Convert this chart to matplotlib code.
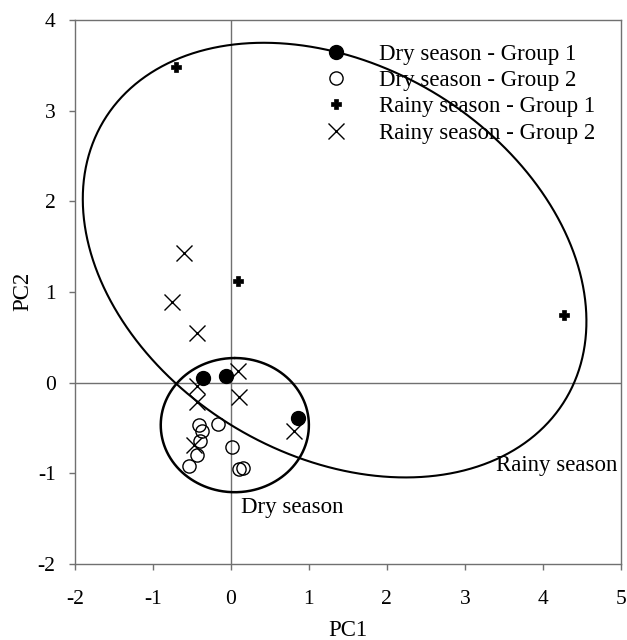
import numpy as np
import matplotlib
matplotlib.use("Agg")
import matplotlib.pyplot as plt

plt.rcParams['font.family'] = ['Liberation Serif', 'DejaVu Serif']
plt.rcParams['axes.unicode_minus'] = False

# Data
dry_g1_x = [-0.36, -0.06, 0.86]
dry_g1_y = [0.05, 0.07, -0.39]
dry_g2_x = [-0.41, -0.37, -0.17, -0.40, -0.43, -0.54, 0.02, 0.10, 0.16]
dry_g2_y = [-0.47, -0.53, -0.46, -0.64, -0.80, -0.92, -0.71, -0.95, -0.94]
rainy_g1_x = [-0.70, 0.09, 4.27]
rainy_g1_y = [3.48, 1.12, 0.74]
rainy_g2_x = [-0.60, -0.75, -0.44, 0.09, 0.10, -0.43, -0.43, 0.81, -0.47]
rainy_g2_y = [1.43, 0.89, 0.55, 0.13, -0.16, -0.04, -0.21, -0.53, -0.69]

labels = ["Dry season - Group 1", "Dry season - Group 2",
          "Rainy season - Group 1", "Rainy season - Group 2"]

# Ellipses: x = cx + a*cos t + b*sin t, y = cy + c*cos t + d*sin t
rainy_ell = dict(cx=1.33, cy=1.35, a=3.23, b=0.0, c=-0.675, d=2.30)
dry_ell = dict(cx=0.05, cy=-0.47, a=0.95, b=0.0, c=0.0, d=0.74)

fig = plt.figure(figsize=(6.27, 6.40), dpi=100)
ax = fig.add_axes([0.1196, 0.119, 0.8704, 0.850])

ax.axhline(0, color='#707070', lw=1.0, zorder=1)
ax.axvline(0, color='#707070', lw=1.0, zorder=1)

t = np.linspace(0.5 * np.pi, 2.5 * np.pi, 600)
for e, lw in [(rainy_ell, 1.5), (dry_ell, 1.8)]:
    ex = e['cx'] + e['a'] * np.cos(t) + e['b'] * np.sin(t)
    ey = e['cy'] + e['c'] * np.cos(t) + e['d'] * np.sin(t)
    ax.plot(ex, ey, color='black', lw=lw, zorder=2, solid_capstyle='round')

ax.plot(dry_g1_x, dry_g1_y, 'o', ms=10, mfc='black', mec='black', ls='none', label=labels[0], zorder=4)
ax.plot(dry_g2_x, dry_g2_y, 'o', ms=9.5, mfc='none', mec='black', mew=1.0, ls='none', label=labels[1], zorder=4)
ax.plot(rainy_g1_x, rainy_g1_y, 'P', ms=7, mfc='black', mec='black', mew=0.5, ls='none', label=labels[2], zorder=4)
ax.plot(rainy_g2_x, rainy_g2_y, 'x', ms=11, color='black', mew=1.0, ls='none', label=labels[3], zorder=4)

ax.text(3.40, -0.91, "Rainy season", fontsize=16.5, va='center', ha='left')
ax.text(0.13, -1.38, "Dry season", fontsize=16.5, va='center', ha='left')

ax.set_xlim(-2, 5)
ax.set_ylim(-2, 4)
ax.set_xticks(range(-2, 6))
ax.set_yticks(range(-2, 5))
ax.tick_params(labelsize=15.5, direction='out', length=4, color='#707070', width=1.0)
ax.tick_params(axis='x', pad=15)
ax.tick_params(axis='y', pad=10)
for s in ax.spines.values():
    s.set_color('#707070')
    s.set_linewidth(1.0)
ax.set_xlabel("PC1", fontsize=16.5, labelpad=8)
ax.set_ylabel("PC2", fontsize=16.5, labelpad=3)

leg = ax.legend(loc='upper left', bbox_to_anchor=(0.437, 0.972), frameon=False,
                fontsize=16.5, handletextpad=1.25, labelspacing=0.22, borderaxespad=0.0,
                handlelength=1.2)

fig.savefig("out.png", dpi=100)
